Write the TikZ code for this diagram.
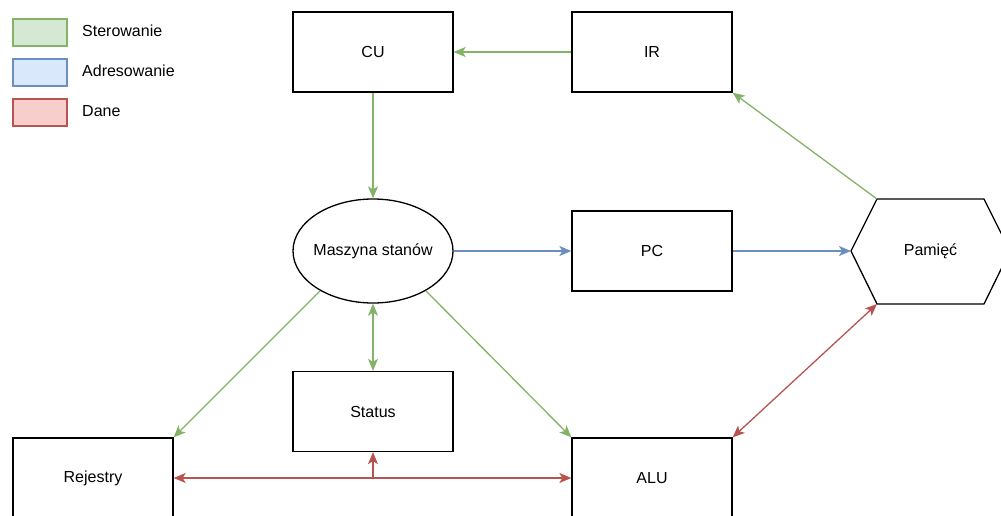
\documentclass[tikz,border=0pt]{standalone}
\usepackage{fontspec}
\setmainfont{Liberation Sans}
\usetikzlibrary{arrows.meta,shapes.geometric}
\definecolor{gstroke}{HTML}{82B366}
\definecolor{gfill}{HTML}{D5E8D4}
\definecolor{bstroke}{HTML}{6C8EBF}
\definecolor{bfill}{HTML}{DAE8FC}
\definecolor{rstroke}{HTML}{B85450}
\definecolor{rfill}{HTML}{F8CECC}
\tikzset{
  box/.style={draw=black, line width=1.3pt, minimum width=160pt, minimum height=80pt, inner sep=0pt, font=\fontsize{16}{19}\selectfont},
  lgbox/.style={line width=1.3pt, minimum width=54pt, minimum height=27pt, inner sep=0pt},
  lgtext/.style={anchor=west, font=\fontsize{16}{19}\selectfont, inner sep=0pt},
  label/.style={font=\fontsize{16}{19}\selectfont, inner sep=0pt},
  tip/.style={arrows={-Stealth[length=12pt,width=10pt,inset=3pt]}},
  dtip/.style={arrows={Stealth[length=12pt,width=10pt,inset=3pt]-Stealth[length=12pt,width=10pt,inset=3pt]}},
  ctrl/.style={draw=gstroke, line width=1.3pt},
  addr/.style={draw=bstroke, line width=1.3pt},
  data/.style={draw=rstroke, line width=1.3pt},
}
\begin{document}
\begin{tikzpicture}[x=1pt,y=-1pt]
\useasboundingbox (0,0) rectangle (1001,516);
\clip (0,0) rectangle (1001,516);
% legend
\node[lgbox, draw=gstroke, fill=gfill] (lg) at (40,32.5) {};
\node[lgbox, draw=bstroke, fill=bfill] (lb) at (40,72.5) {};
\node[lgbox, draw=rstroke, fill=rfill] (lr) at (40,112.5) {};
\node[lgtext] (tg) at (82,31) {Sterowanie};
\node[lgtext] (tb) at (82,71) {Adresowanie};
\node[lgtext] (tr) at (82,111) {Dane};
% nodes
\node[box] (cu) at (373,52) {CU};
\node[box] (ir) at (652,52) {IR};
\node[draw=black, line width=1.3pt, ellipse, minimum width=160pt, minimum height=104pt, inner sep=0pt] (fsm) at (373,251) {};
\node[label] (fsmt) at (fsm.center) {Maszyna stanów};
\node[box] (pc) at (652,251) {PC};
\node[box] (st) at (373,411.5) {Status};
\node[box] (rej) at (93,478) {Rejestry};
\node[box] (alu) at (652,478) {ALU};
% memory hexagon
\coordinate (mL) at (851,251);
\coordinate (mTL) at (877,199);
\coordinate (mTR) at (984,199);
\coordinate (mR) at (1010,251);
\coordinate (mBR) at (984,304);
\coordinate (mBL) at (877,304);
\draw[line width=1.3pt, line join=miter] (mL) -- (mTL) -- (mTR) -- (mR) -- (mBR) -- (mBL) -- cycle;
\node[label] (mem) at (930.5,251) {Pamięć};
% connectors
\draw[ctrl, tip] (ir.west) -- (cu.east);
\draw[ctrl, tip] (cu.south) -- (fsm.north);
\draw[ctrl, tip] (mTL) -- (ir.south east);
\draw[addr, tip] (fsm.east) -- (pc.west);
\draw[addr, tip] (pc.east) -- (mL);
\draw[ctrl, tip] (fsm.217) -- (rej.north east);
\draw[ctrl, tip] (fsm.323) -- (alu.north west);
\draw[ctrl, dtip] (fsm.south) -- (st.north);
\draw[data, dtip] (rej.east) -- (alu.west);
\coordinate (mid) at (rej.east -| st.south);
\draw[data, tip] (mid) -- (st.south);
\draw[data, dtip] (alu.north east) -- (mBL);
\end{tikzpicture}
\end{document}
